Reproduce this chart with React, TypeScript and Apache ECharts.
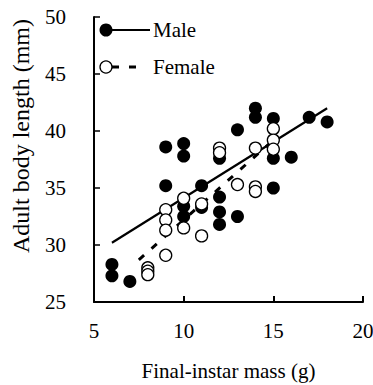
import React, { useEffect, useRef } from "react";
import * as echarts from "echarts";

const maleMass = [6, 6, 7, 9, 9, 10, 10, 10, 10, 11, 11, 12, 12, 12, 12, 13, 13, 14, 14, 15, 15, 15, 16, 17, 18];
const maleLength = [28.3, 27.3, 26.8, 38.6, 35.2, 38.9, 37.8, 33.4, 32.5, 35.2, 33.3, 37.6, 34.2, 32.9, 31.8, 40.1, 32.5, 42.0, 41.2, 41.1, 37.6, 35.0, 37.7, 41.2, 40.8];

const femaleMass = [8, 8, 8, 9, 9, 9, 9, 10, 10, 11, 11, 12, 12, 13, 14, 14, 14, 15, 15, 15];
const femaleLength = [28.0, 27.7, 27.4, 29.1, 33.1, 32.2, 31.3, 34.1, 31.5, 30.8, 33.6, 38.5, 38.1, 35.3, 35.1, 34.7, 38.5, 40.2, 39.2, 38.4];

const maleFit = [[6, 30.2], [18, 42.0]];
const femaleFit = [[7.5, 28.7], [15, 39.2]];

const xTicks = [5, 10, 15, 20];
const yTicks = [25, 30, 35, 40, 45, 50];

const FONT = "Liberation Serif";

export default function App() {
  const ref = useRef<HTMLDivElement>(null);
  useEffect(() => {
    const chart = echarts.init(ref.current!, null, { renderer: "svg" });
    const male = maleMass.map((m, i) => [m, maleLength[i]]);
    const female = femaleMass.map((m, i) => [m, femaleLength[i]]);
    chart.setOption({
      animation: false,
      grid: { left: 94, right: 10, top: 17, bottom: 83, outerBoundsMode: "none", containLabel: false },
      xAxis: {
        type: "value",
        min: xTicks[0],
        max: xTicks[xTicks.length - 1],
        interval: 5,
        name: "Final-instar mass (g)",
        nameLocation: "middle",
        nameGap: 58,
        nameTextStyle: { fontFamily: FONT, fontSize: 21, color: "#000" },
        axisLine: { lineStyle: { color: "#000", width: 2 } },
        axisTick: { inside: true, length: 6, lineStyle: { color: "#000", width: 2 } },
        axisLabel: { fontFamily: FONT, fontSize: 21, color: "#000", margin: 18 },
        splitLine: { show: false },
      },
      yAxis: {
        type: "value",
        min: yTicks[0],
        max: yTicks[yTicks.length - 1],
        interval: 5,
        axisLine: { lineStyle: { color: "#000", width: 2 } },
        axisTick: { inside: true, length: 6, lineStyle: { color: "#000", width: 1.5 } },
        axisLabel: { fontFamily: FONT, fontSize: 21, color: "#000", margin: 28 },
        splitLine: { show: false },
      },
      series: [
        {
          type: "line",
          data: maleFit,
          symbol: "none",
          lineStyle: { color: "#000", width: 2.2 },
          z: 3,
        },
        {
          type: "line",
          data: femaleFit,
          symbol: "none",
          lineStyle: { color: "#000", width: 3, type: [7, 10] },
          z: 3,
        },
        {
          type: "scatter",
          name: "Male",
          data: male,
          symbol: "circle",
          symbolSize: 13,
          itemStyle: { color: "#000", opacity: 1 },
          z: 4,
        },
        {
          type: "scatter",
          name: "Female",
          data: female,
          symbol: "circle",
          symbolSize: 12,
          itemStyle: { color: "#fff", borderColor: "#000", borderWidth: 1.3, opacity: 1 },
          z: 5,
        },
      ],
      graphic: [
        {
          type: "text",
          x: 21,
          y: 136,
          rotation: Math.PI / 2,
          style: { text: "Adult body length (mm)", font: `24px "${FONT}"`, fill: "#000", align: "center", verticalAlign: "middle" },
        },
        { type: "line", shape: { x1: 106, y1: 30, x2: 150, y2: 30 }, style: { stroke: "#000", lineWidth: 2 } },
        { type: "circle", shape: { cx: 106, cy: 30, r: 6.5 }, style: { fill: "#000" } },
        { type: "text", x: 153, y: 30, style: { text: "Male", font: `21px "${FONT}"`, fill: "#000", verticalAlign: "middle" } },
        { type: "line", shape: { x1: 112, y1: 67, x2: 142, y2: 67 }, style: { stroke: "#000", lineWidth: 3, lineDash: [7, 10] } },
        { type: "circle", shape: { cx: 106, cy: 67, r: 6 }, style: { fill: "#fff", stroke: "#000", lineWidth: 1.3 } },
        { type: "text", x: 153, y: 67, style: { text: "Female", font: `21px "${FONT}"`, fill: "#000", verticalAlign: "middle" } },
      ],
    });
    return () => chart.dispose();
  }, []);
  return <div ref={ref} style={{ width: 373, height: 385, position: "absolute", left: 0, top: 0 }} />;
}
